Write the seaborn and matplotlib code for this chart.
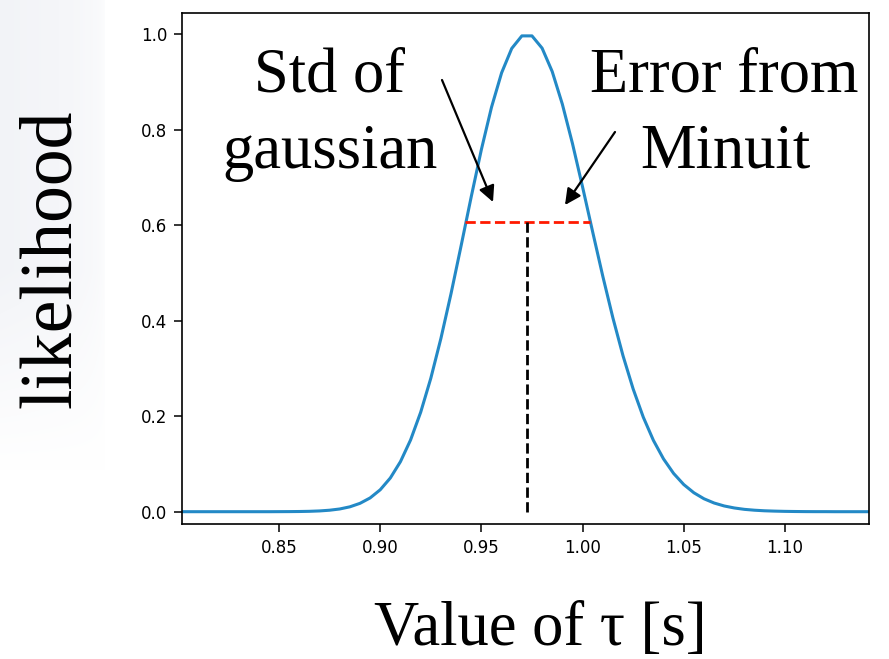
import numpy as np
import pandas as pd
import matplotlib
matplotlib.use("Agg")
import matplotlib.pyplot as plt
import seaborn as sns

# ---- data ----
tau = [0.800, 0.805, 0.810, 0.815, 0.820, 0.825, 0.830, 0.835, 0.840, 0.845,
       0.850, 0.855, 0.860, 0.865, 0.870, 0.875, 0.880, 0.885, 0.890, 0.895,
       0.900, 0.905, 0.910, 0.915, 0.920, 0.925, 0.930, 0.935, 0.940, 0.945,
       0.950, 0.955, 0.960, 0.965, 0.970, 0.975, 0.980, 0.985, 0.990, 0.995,
       1.000, 1.005, 1.010, 1.015, 1.020, 1.025, 1.030, 1.035, 1.040, 1.045,
       1.050, 1.055, 1.060, 1.065, 1.070, 1.075, 1.080, 1.085, 1.090, 1.095,
       1.100, 1.105, 1.110, 1.115, 1.120, 1.125, 1.130, 1.135, 1.140, 1.145]
likelihood = [0.0, 0.0, 0.0, 0.0, 0.0, 0.0, 0.0, 0.0, 0.0, 0.0,
              0.0001, 0.0002, 0.0004, 0.0008, 0.0016, 0.0031, 0.0057, 0.0102, 0.0175, 0.0288,
              0.0459, 0.0706, 0.1048, 0.1502, 0.2083, 0.2794, 0.3630, 0.4568, 0.5575, 0.6601,
              0.7587, 0.8472, 0.9194, 0.9704, 0.9967, 0.9967, 0.9710, 0.9220, 0.8538, 0.7714,
              0.6803, 0.5860, 0.4932, 0.4058, 0.3265, 0.2571, 0.1981, 0.1495, 0.1106, 0.0801,
              0.0569, 0.0397, 0.0271, 0.0182, 0.0120, 0.0078, 0.0049, 0.0031, 0.0019, 0.0012,
              0.0007, 0.0004, 0.0002, 0.0001, 0.0001, 0.0, 0.0, 0.0, 0.0, 0.0]
tau_best = 0.9724
sigma_level = 0.6065
err_lo = 0.9419
err_hi = 1.0037
x_ticks = [0.85, 0.90, 0.95, 1.00, 1.05, 1.10]
x_ticklabels = ["0.85", "0.90", "0.95", "1.00", "1.05", "1.10"]
y_ticks = [0.0, 0.2, 0.4, 0.6, 0.8, 1.0]
y_ticklabels = ["0.0", "0.2", "0.4", "0.6", "0.8", "1.0"]
x_label = "Value of τ [s]"
y_label = "likelihood"

df = pd.DataFrame({"tau": tau, "likelihood": likelihood})

sns.set_theme(style="ticks")
plt.rcParams["font.family"] = ["DejaVu Sans"]

W, H = 889, 659
fig = plt.figure(figsize=(W / 100, H / 100), dpi=100)
fig.patch.set_facecolor("white")

# faint slide background on the left
bg = fig.add_axes([0, 0, 1, 1], zorder=-10)
bg.axis("off")
grad = np.ones((H, W, 3))
xs = np.arange(W)[None, :]
ys = np.arange(H)[:, None]
shade = np.clip((105 - xs) / 105.0, 0, 1) ** 0.3 * np.clip((470 - ys) / 200.0, 0, 1)
shade = shade * (xs < 105)
grad[..., 0] -= 0.05 * shade
grad[..., 1] -= 0.045 * shade
grad[..., 2] -= 0.03 * shade
bg.imshow(grad, aspect="auto", extent=[0, 1, 0, 1], transform=bg.transAxes)

def fx(px):
    return px / W

def fy(py):
    return 1 - py / H

ax = fig.add_axes([fx(181.7), fy(524.3), (869.3 - 181.7) / W, (524.3 - 13.3) / H])
ax.set_facecolor("white")

sns.lineplot(data=df, x="tau", y="likelihood", ax=ax, color="#2389c6", lw=2.2)
ax.hlines(sigma_level, err_lo, err_hi, colors="#ff1a00", linestyles="--", lw=2.0)
ax.vlines(tau_best, 0.0, sigma_level, colors="black", linestyles="--", lw=2.0)

ax.set_xlim(0.8019, 1.1417)
ax.set_ylim(-0.0264, 1.044)
ax.set_xticks(x_ticks)
ax.set_xticklabels(x_ticklabels)
ax.set_yticks(y_ticks)
ax.set_yticklabels(y_ticklabels)
ax.set_xlabel("")
ax.set_ylabel("")
ax.tick_params(axis="both", labelsize=12, length=5.5, width=1.1, pad=5,
               color="black", labelcolor="black")
for s in ax.spines.values():
    s.set_visible(True)
    s.set_linewidth(1.2)
    s.set_color("black")

serif = ["Liberation Serif", "DejaVu Serif"]
tk = dict(family=serif, fontsize=45, color="black", va="baseline", ha="center")
fig.text(fx(330), fy(92), "Std of", **tk)
fig.text(fx(330), fy(168), "gaussian", **tk)
fig.text(fx(724), fy(92), "Error from", **tk)
fig.text(fx(725), fy(168), "Minuit", **tk)
fig.text(fx(540), fy(630), x_label, family=serif, fontsize=45, color="black",
         ha="center", va="center")
fig.text(fx(52), fy(259), y_label, family=serif, fontsize=53, color="black",
         ha="center", va="center", rotation=90)

arrow_kw = dict(arrowstyle="-|>", color="black", lw=1.6, mutation_scale=24,
                shrinkA=0, shrinkB=0)
ax.annotate("", xy=(fx(493), fy(202)), xytext=(fx(442), fy(80)),
            xycoords="figure fraction", textcoords="figure fraction", arrowprops=arrow_kw)
ax.annotate("", xy=(fx(565), fy(205)), xytext=(fx(615), fy(132)),
            xycoords="figure fraction", textcoords="figure fraction", arrowprops=arrow_kw)

fig.savefig("out.png", dpi=100)
